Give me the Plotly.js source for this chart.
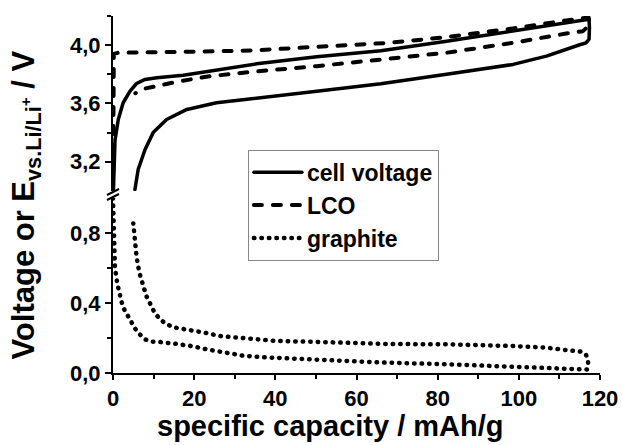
<!DOCTYPE html>
<html><head><meta charset="utf-8">
<script src="https://cdn.plot.ly/plotly-3.0.1.min.js"></script>
<style>
html,body{margin:0;padding:0;background:#fff;}
#chart{width:622px;height:445px;}
.js-plotly-plot path.js-line{stroke-linecap:round;stroke-linejoin:round;}
</style></head><body><div id="chart"></div>
<script>
// cell voltage: charge 0 -> 117 mAh/g, then discharge back to ~5 mAh/g
const cellCapacity = [0.1,0.25,0.5,1.3,2.5,4.2,5.8,7.9,10.8,17.3,25.5,35.4,50.2,66,82.2,98.6,111.7,117.3,
  117.4,117.3,116.5,115,106.8,98.6,82.2,66,50.2,35.4,25.5,18.2,13.2,9.9,7.9,6.2,5.4];
const cellVoltage = [3.0,3.15,3.35,3.49,3.605,3.685,3.737,3.765,3.776,3.794,3.829,3.872,3.92,3.962,4.027,4.096,4.154,4.178,
  4.12,4.04,4.015,4.003,3.925,3.868,3.80,3.735,3.684,3.636,3.605,3.559,3.49,3.40,3.284,3.147,3.01];

// LCO potential vs Li/Li+
const lcoCapacity = [0,0.2,1.3,10,20,34.5,50,68,82.2,98.6,111.7,117.2,
  117.5,116.5,115.8,111.7,98.6,82.2,70.7,66,50.2,34.6,23.9,16.5,11.6,7.5,5.5];
const lcoVoltage = [3.0,3.94,3.948,3.95,3.955,3.964,3.985,4.016,4.055,4.115,4.17,4.19,
  4.14,4.11,4.096,4.08,4.016,3.948,3.913,3.90,3.856,3.818,3.787,3.753,3.724,3.70,3.67];

// graphite potential vs Li/Li+
const graphiteCapacity = [0,0.1,0.2,0.5,1.07,1.48,1.97,2.5,3.4,4.35,5.4,6.5,7.9,9.7,11.6,15.7,19.4,23.1,26.4,32.1,37,42.8,50.2,58.4,66,82,98.5,110.8,116.8,
  117.1,117.0,116.5,115.4,111.7,106.8,98.5,82.2,67.4,56.7,48.5,40.3,35.8,30,26.4,22.7,18.6,14.9,12.8,11.4,10.2,9.1,8.3,7.7,7.07,6.5,5.8,5.4,5.0];
const graphiteVoltage = [1.0,0.85,0.7,0.6,0.51,0.46,0.42,0.375,0.337,0.293,0.255,0.223,0.192,0.179,0.177,0.166,0.154,0.135,0.122,0.099,0.09,0.084,0.078,0.07,0.06,0.05,0.036,0.021,0.02,
  0.05,0.08,0.107,0.122,0.131,0.145,0.154,0.164,0.166,0.17,0.179,0.183,0.193,0.202,0.211,0.23,0.246,0.261,0.284,0.312,0.347,0.392,0.436,0.48,0.527,0.573,0.665,0.76,0.855];

const seriesNames = ['cell voltage','LCO','graphite'];

const xTickVals = [0,20,40,60,80,100,120];
const xTickText = ['0','20','40','60','80','100','120'];
const xMinorVals = [10,30,50,70,90,110];
const yLowTickVals = [0,0.4,0.8];
const yLowTickText = ['0,0','0,4','0,8'];
const yLowMinorVals = [0.2,0.6];
const yUpTickVals = [3.2,3.6,4.0];
const yUpTickText = ['3,2','3,6','4,0'];
const yUpMinorVals = [3.4,3.8,4.2];

const traces = [
  {x: cellCapacity, y: cellVoltage, xaxis:'x', yaxis:'y2', mode:'lines', name: seriesNames[0],
   line:{color:'#000', width:3.5, dash:'solid'}},
  {x: lcoCapacity, y: lcoVoltage, xaxis:'x', yaxis:'y2', mode:'lines', name: seriesNames[1],
   line:{color:'#000', width:4, dash:'8px,11px'}},
  {x: graphiteCapacity, y: graphiteVoltage, xaxis:'x', yaxis:'y', mode:'lines', name: seriesNames[2],
   line:{color:'#000', width:4.5, dash:'0.5px,7px'}}
];

const axisCommon = {showline:true, linecolor:'#000', linewidth:2, ticks:'outside', ticklen:6, tickwidth:2,
  tickcolor:'#000', showgrid:false, zeroline:false, fixedrange:true};

const layout = {
  width:622, height:445,
  margin:{l:113, r:22, t:16, b:72},
  paper_bgcolor:'#fff', plot_bgcolor:'#fff',
  font:{family:'Liberation Sans, Arial, sans-serif', size:22, color:'#000', weight:'bold'},
  showlegend:true,
  legend:{x:0.277, y:0.6255, xanchor:'left', yanchor:'top', bgcolor:'#fff', bordercolor:'#888', borderwidth:1,
    font:{size:23, weight:'bold'}, itemwidth:48, tracegroupgap:0},
  xaxis: Object.assign({}, axisCommon, {range:[0,120], anchor:'y', ticklen:5, tickmode:'array', tickvals:xTickVals, ticktext:xTickText,
    minor:{tickmode:'array', tickvals:xMinorVals, ticks:'outside', ticklen:4, tickwidth:2, tickcolor:'#000'}}),
  yaxis: Object.assign({}, axisCommon, {domain:[0,0.49], range:[0,1.0], anchor:'x', tickmode:'array', tickvals:yLowTickVals, ticktext:yLowTickText,
    minor:{tickmode:'array', tickvals:yLowMinorVals, ticks:'outside', ticklen:4, tickwidth:2, tickcolor:'#000'}}),
  yaxis2: Object.assign({}, axisCommon, {domain:[0.51,1], range:[3.0,4.2], anchor:'x', tickmode:'array', tickvals:yUpTickVals, ticktext:yUpTickText,
    minor:{tickmode:'array', tickvals:yUpMinorVals, ticks:'outside', ticklen:4, tickwidth:2, tickcolor:'#000'}}),
  annotations:[
    {text:'specific capacity / mAh/g', xref:'paper', yref:'paper', x:0.4456, y:-0.148, xanchor:'center', yanchor:'middle',
     showarrow:false, font:{size:29, weight:'bold'}},
    {text:'Voltage or E<sub>vs.Li/Li<sup>+</sup></sub> / V', xref:'paper', yref:'paper', x:-0.178, y:0.47, xanchor:'center', yanchor:'middle',
     textangle:-90, showarrow:false, font:{size:31, weight:'bold'}}
  ],
  shapes:[
    {type:'line', xref:'paper', yref:'paper', x0:-0.0123, y0:0.4986, x1:0.0123, y1:0.5154, line:{color:'#000', width:2}},
    {type:'line', xref:'paper', yref:'paper', x0:-0.0123, y0:0.4846, x1:0.0123, y1:0.5014, line:{color:'#000', width:2}}
  ]
};

Plotly.newPlot('chart', traces, layout, {staticPlot:true, displayModeBar:false});
</script></body></html>
